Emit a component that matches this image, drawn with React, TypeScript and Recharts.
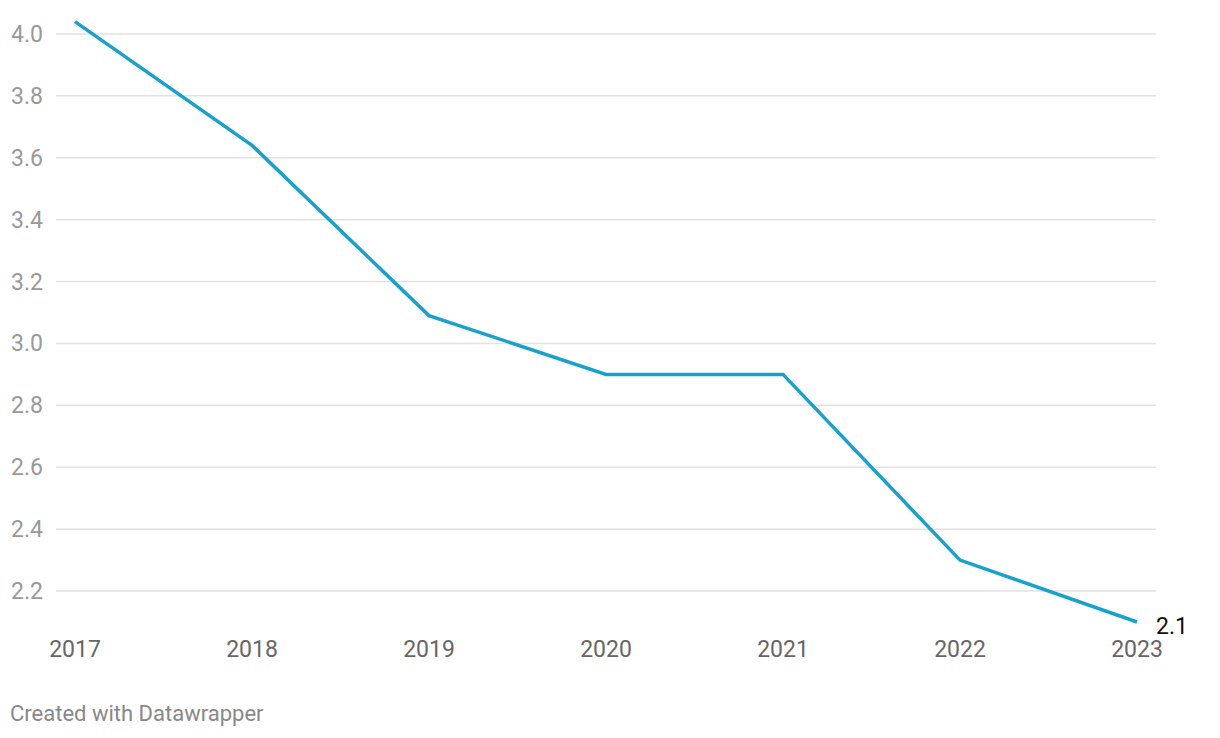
import React from "react";
import { LineChart, Line, XAxis, YAxis, CartesianGrid, LabelList } from "recharts";

const years = ["2017", "2018", "2019", "2020", "2021", "2022", "2023"];
const values = [4.04, 3.64, 3.09, 2.9, 2.9, 2.3, 2.1];
const yTicks = [2.2, 2.4, 2.6, 2.8, 3.0, 3.2, 3.4, 3.6, 3.8, 4.0];

const data = years.map((y, i) => ({ year: y, value: values[i] }));

const FONT = "Roboto, 'Noto Sans', sans-serif";

const XTick = (props: any) => {
  const { x, y, payload } = props;
  return (
    <text x={x} y={y + 35} textAnchor="middle" fill="#666" fontSize={23} fontFamily={FONT}>
      {payload.value}
    </text>
  );
};

const YTick = (props: any) => {
  const { x, y, payload } = props;
  return (
    <text x={x - 13} y={y + 8} textAnchor="end" fill="#999" fontSize={23} fontFamily={FONT}>
      {Number(payload.value).toFixed(1)}
    </text>
  );
};

const LastLabel = (props: any) => {
  const { x, y, index, value } = props;
  if (index !== values.length - 1) return null;
  return (
    <text x={x + 19} y={y + 12} textAnchor="start" fill="#111" fontSize={23} fontFamily={FONT}>
      {value}
    </text>
  );
};

export default function App() {
  return (
    <div style={{ position: "absolute", top: 0, left: 0, width: 1220, height: 738, background: "#fff" }}>
      <LineChart
        width={1220}
        height={738}
        data={data}
        margin={{ top: 3, right: 64, bottom: 76, left: 0 }}
      >
        <CartesianGrid vertical={false} stroke="#e2e2e2" strokeWidth={1.5} horizontalValues={yTicks} />
        <XAxis
          dataKey="year"
          axisLine={false}
          tickLine={false}
          tickSize={0}
          tickMargin={0}
          height={40}
          padding={{ left: 19, right: 19 }}
          tick={<XTick />}
          interval={0}
        />
        <YAxis
          type="number"
          domain={[2.1, 4.1]}
          ticks={yTicks}
          axisLine={false}
          tickLine={false}
          tickSize={0}
          tickMargin={0}
          width={56}
          tick={<YTick />}
          interval={0}
        />
        <Line
          type="linear"
          dataKey="value"
          stroke="#18a1cd"
          strokeWidth={3.5}
          dot={false}
          activeDot={false}
          isAnimationActive={false}
        >
          <LabelList dataKey="value" content={<LastLabel />} />
        </Line>
      </LineChart>
      <div
        style={{
          position: "absolute",
          left: 10,
          top: 701,
          fontFamily: FONT,
          fontSize: 22,
          color: "#888",
          whiteSpace: "nowrap",
        }}
      >
        Created with Datawrapper
      </div>
    </div>
  );
}
